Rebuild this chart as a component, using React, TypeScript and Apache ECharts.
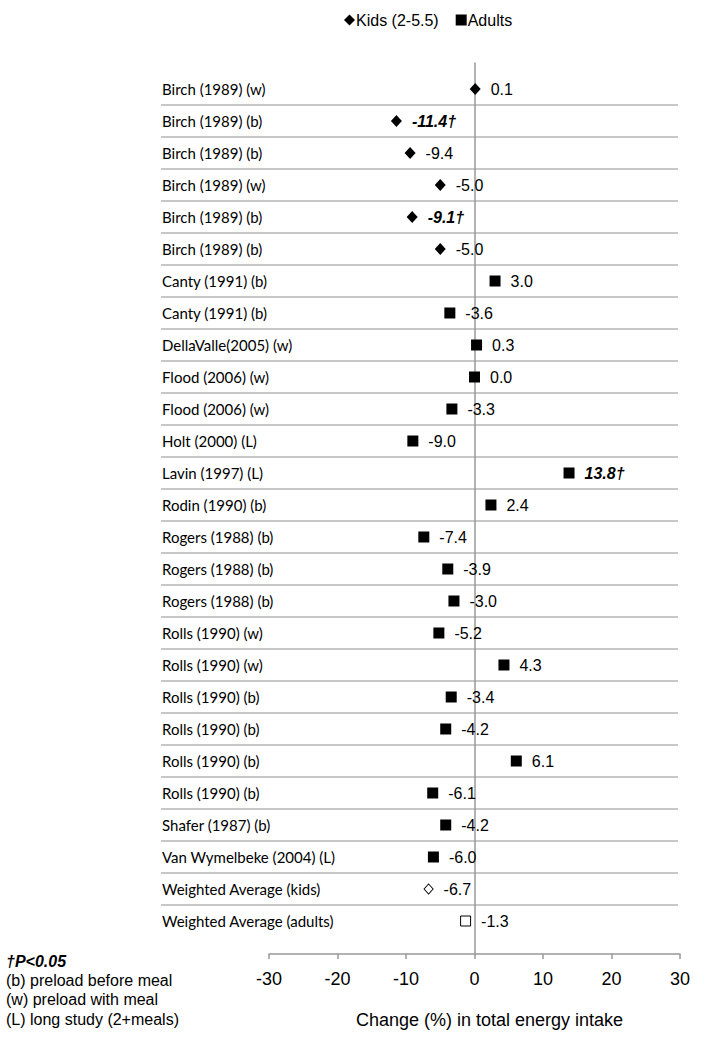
import React, { useEffect, useRef } from "react";
import * as echarts from "echarts";

const kidsLabels = [
  "Birch (1989) (w)",
  "Birch (1989) (b)",
  "Birch (1989) (b)",
  "Birch (1989) (w)",
  "Birch (1989) (b)",
  "Birch (1989) (b)",
];
const kidsValues = [0.1, -11.4, -9.4, -5.0, -9.1, -5.0];
const kidsSignificant = [false, true, false, false, true, false];

const adultLabels = [
  "Canty (1991) (b)",
  "Canty (1991) (b)",
  "DellaValle(2005) (w)",
  "Flood (2006) (w)",
  "Flood (2006) (w)",
  "Holt (2000) (L)",
  "Lavin (1997) (L)",
  "Rodin (1990) (b)",
  "Rogers (1988) (b)",
  "Rogers (1988) (b)",
  "Rogers (1988) (b)",
  "Rolls (1990) (w)",
  "Rolls (1990) (w)",
  "Rolls (1990) (b)",
  "Rolls (1990) (b)",
  "Rolls (1990) (b)",
  "Rolls (1990) (b)",
  "Shafer (1987) (b)",
  "Van Wymelbeke (2004) (L)",
];
const adultValues = [3.0, -3.6, 0.3, 0.0, -3.3, -9.0, 13.8, 2.4, -7.4, -3.9, -3.0, -5.2, 4.3, -3.4, -4.2, 6.1, -6.1, -4.2, -6.0];
const adultSignificant = [false, false, false, false, false, false, true, false, false, false, false, false, false, false, false, false, false, false, false];

const averageLabels = ["Weighted Average (kids)", "Weighted Average (adults)"];
const averageValues = [-6.7, -1.3];

const seriesNames = ["Kids (2-5.5)", "Adults"];
const xTicks = { min: -30, max: 30, interval: 10 };
const xAxisTitle = "Change (%) in total energy intake";
const footnotes = ["(b) preload before meal", "(w) preload with meal", "(L) long study (2+meals)"];
const footnoteTitle = "\u2020P<0.05";

const categories = [...kidsLabels, ...adultLabels, ...averageLabels];

const FONT = "'Liberation Sans', Arial, sans-serif";

export default function App() {
  const ref = useRef<HTMLDivElement>(null);

  useEffect(() => {
    if (!ref.current) return;
    const chart = echarts.init(ref.current, undefined, { renderer: "svg" });

    const kidsData: any[] = kidsValues.map((v, i) => ({
      value: [v, i],
      sig: kidsSignificant[i],
      label: kidsSignificant[i] ? { fontWeight: "bold", fontStyle: "italic" } : undefined,
    }));
    kidsData.push({
      value: [averageValues[0], kidsLabels.length + adultLabels.length],
      symbolSize: [9, 10],
      itemStyle: { color: "#fff", borderColor: "#000", borderWidth: 1, opacity: 1 },
    });

    const adultData: any[] = adultValues.map((v, i) => ({
      value: [v, kidsLabels.length + i],
      sig: adultSignificant[i],
      label: adultSignificant[i] ? { fontWeight: "bold", fontStyle: "italic" } : undefined,
    }));
    adultData.push({
      value: [averageValues[1], kidsLabels.length + adultLabels.length + 1],
      symbolSize: 10,
      itemStyle: { color: "#fff", borderColor: "#000", borderWidth: 1, opacity: 1 },
    });

    const labelFormatter = (p: any) =>
      p.value[0].toFixed(1) + (p.data && p.data.sig ? "\u2020" : "");

    const option: any = {
      animation: false,
      textStyle: { fontFamily: FONT, color: "#000" },
      legend: {
        data: seriesNames,
        left: 339,
        top: 7,
        itemWidth: 11,
        itemHeight: 11,
        itemGap: 17,
        textStyle: { fontSize: 16, color: "#000", fontFamily: FONT, padding: [0, 0, 0, -4] },
      },
      grid: [
        { left: 269, right: 30, top: 63, bottom: 96 },
        { left: 161, right: 32, top: 73, bottom: 113 },
        { left: 269, right: 30, top: 73, bottom: 113 },
      ],
      xAxis: [
        {
          gridIndex: 0,
          type: "value",
          min: xTicks.min,
          max: xTicks.max,
          interval: xTicks.interval,
          axisLine: { show: true, onZero: false, lineStyle: { color: "#999", width: 1.5 } },
          axisTick: { show: true, inside: false, length: 5, lineStyle: { color: "#999", width: 1.5 } },
          axisLabel: { fontSize: 18, color: "#000", margin: 16, fontFamily: FONT },
          splitLine: { show: false },
          name: xAxisTitle,
          nameLocation: "middle",
          nameGap: 57,
          nameTextStyle: { fontSize: 18, color: "#000", fontFamily: FONT, padding: [0, 0, 0, 30] },
        },
        { gridIndex: 1, type: "value", min: 0, max: 1, show: false },
        { gridIndex: 2, type: "value", min: xTicks.min, max: xTicks.max, show: false },
      ],
      yAxis: [
        {
          gridIndex: 0,
          type: "value",
          min: 0,
          max: 1,
          axisLine: { show: true, onZero: true, lineStyle: { color: "#999", width: 1.5 } },
          axisTick: { show: false },
          axisLabel: { show: false },
          splitLine: { show: false },
        },
        {
          gridIndex: 1,
          type: "category",
          inverse: true,
          data: categories,
          axisLine: { show: false },
          axisTick: { show: false },
          axisLabel: {
            inside: true,
            margin: 1,
            fontSize: 15,
            color: "#000",
            fontFamily: "Lato, 'Open Sans', sans-serif",
            padding: [7, 0, 0, 0],
          },
          splitLine: {
            show: true,
            showMinLine: false,
            showMaxLine: false,
            lineStyle: { color: "#b5b5b5", width: 1.6 },
          },
        },
        {
          gridIndex: 2,
          type: "category",
          inverse: true,
          data: categories,
          show: false,
        },
      ],
      series: [
        {
          name: seriesNames[0],
          type: "scatter",
          xAxisIndex: 2,
          yAxisIndex: 2,
          symbol: "diamond",
          symbolSize: [11, 12],
          itemStyle: { color: "#000", opacity: 1 },
          label: {
            show: true,
            position: "right",
            distance: 10,
            fontSize: 16,
            color: "#000",
            fontFamily: FONT,
            formatter: labelFormatter,
          },
          data: kidsData,
        },
        {
          name: seriesNames[1],
          type: "scatter",
          xAxisIndex: 2,
          yAxisIndex: 2,
          symbol: "rect",
          symbolSize: 11,
          itemStyle: { color: "#000", opacity: 1 },
          label: {
            show: true,
            position: "right",
            distance: 10,
            fontSize: 16,
            color: "#000",
            fontFamily: FONT,
            formatter: labelFormatter,
          },
          data: adultData,
        },
      ],
      graphic: [
        {
          type: "text",
          left: 6,
          top: 953,
          style: { text: footnoteTitle, font: `italic bold 16px ${FONT}`, fill: "#000" },
        },
        ...footnotes.map((t, i) => ({
          type: "text",
          left: 6,
          top: 972 + i * 19.5,
          style: { text: t, font: `16px ${FONT}`, fill: "#000" },
        })),
      ],
    };

    chart.setOption(option);
    return () => chart.dispose();
  }, []);

  return (
    <div
      ref={ref}
      style={{ position: "fixed", left: 0, top: 0, width: 710, height: 1050, background: "#fff" }}
    />
  );
}
